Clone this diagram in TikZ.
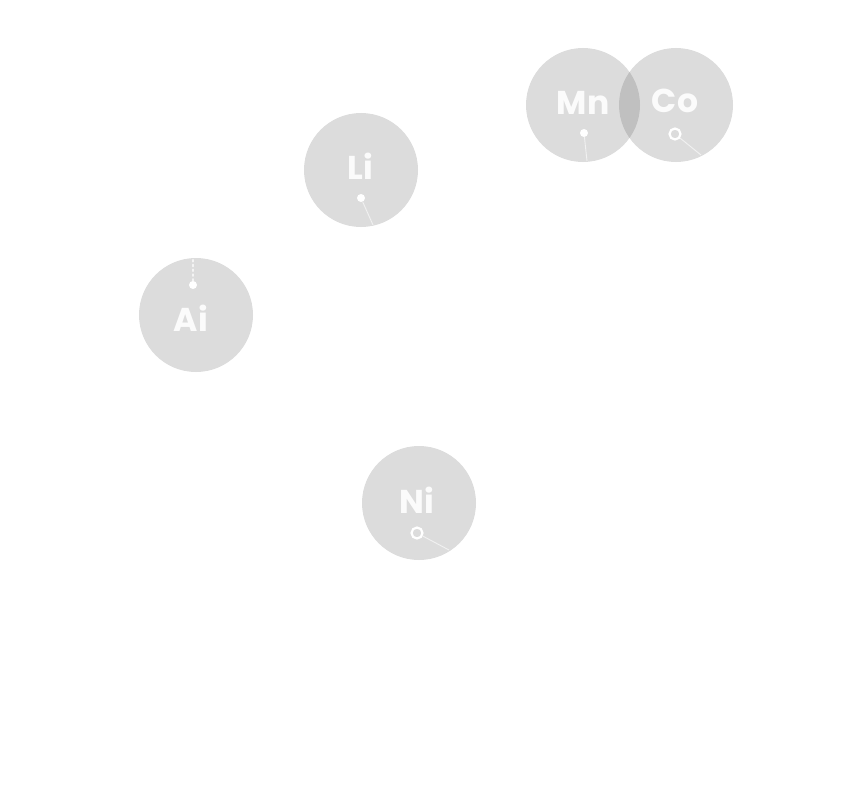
\documentclass[tikz,border=0pt]{standalone}
\usepackage{fontspec}
\newfontfamily\pop{Poppins}
\begin{document}
\begin{tikzpicture}[x=1pt,y=-1pt,
  atom/.style={circle,minimum size=114pt,inner sep=0pt,fill={rgb,255:red,80;green,80;blue,80},fill opacity=0.2,draw=none},
  sym/.style={anchor=base,text=white,text opacity=0.9,inner sep=0pt,font=\pop\bfseries\fontsize{33}{40}\selectfont},
  dotw/.style={circle,fill=white,inner sep=0pt,minimum size=8pt,draw=none},
  ringw/.style={circle,draw=white,line width=2.2pt,fill=none,inner sep=0pt,minimum size=11pt},
  lead/.style={draw=white,draw opacity=0.6,line width=0.9pt}]
\useasboundingbox (0,0) rectangle (853,797);
\node[atom] (mn) at (583,105) {};
\node[atom] (co) at (676,105) {};
\node[atom] (li) at (361,170) {};
\node[atom] (ai) at (196,315) {};
\node[atom] (ni) at (419,503) {};
\node[sym] (mnt) at (583,114) {Mn};
\node[sym] (cot) at (675,113) {Co};
\node[sym] (lit) at (360,179) {Li};
\node[sym] (ait) at (191,331) {Ai};
\node[sym] (nit) at (417,513) {Ni};
\node[dotw] (mnd) at (584,133) {};
\node[ringw] (cod) at (675,134) {};
\node[dotw] (lid) at (361,198) {};
\node[dotw] (aid) at (193,285) {};
\node[ringw] (nid) at (417,533) {};
\coordinate (mne) at (587,161);
\coordinate (coe) at (701,155);
\coordinate (lie) at (373,225);
\coordinate (aie) at (193,259);
\coordinate (nie) at (449,550);
\draw[lead] (mnd) -- (mne);
\draw[lead] (cod) -- (coe);
\draw[lead] (lid) -- (lie);
\draw[lead] (nid) -- (nie);
\draw[draw=white,line width=1.8pt,dash pattern=on 1.8pt off 3pt,line cap=round,draw opacity=0.7] (aid) -- (aie);
\end{tikzpicture}
\end{document}
